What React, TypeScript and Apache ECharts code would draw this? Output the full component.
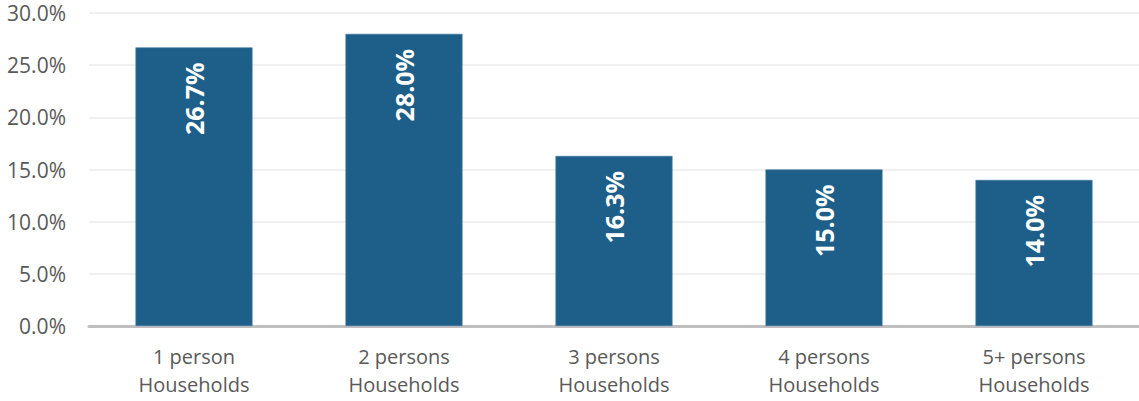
import React, { useEffect, useRef } from "react";
import * as echarts from "echarts";

const categories = [
  "1 person\nHouseholds",
  "2 persons\nHouseholds",
  "3 persons\nHouseholds",
  "4 persons\nHouseholds",
  "5+ persons\nHouseholds",
];
const shares = [26.7, 28.0, 16.3, 15.0, 14.0];
const yTicks = { min: 0, max: 30, interval: 5 };

export default function App() {
  const ref = useRef<HTMLDivElement>(null);
  useEffect(() => {
    if (!ref.current) return;
    const chart = echarts.init(ref.current, null, { renderer: "svg" });
    chart.setOption({
      animation: false,
      backgroundColor: "#ffffff",
      textStyle: { fontFamily: "Open Sans" },
      grid: { left: 89, right: 0, top: 13, bottom: 75, containLabel: false },
      xAxis: {
        type: "category",
        data: categories,
        axisTick: { show: false },
        axisLine: { show: true, lineStyle: { color: "#BFBFBF", width: 3 } },
        axisLabel: {
          color: "#595959",
          fontSize: 20,
          lineHeight: 28,
          margin: 16,
          fontFamily: "Open Sans",
        },
      },
      yAxis: {
        type: "value",
        min: yTicks.min,
        max: yTicks.max,
        interval: yTicks.interval,
        axisLine: { show: false },
        axisTick: { show: false },
        splitLine: { lineStyle: { color: "#EBEBEB", width: 1.5 } },
        axisLabel: {
          color: "#595959",
          fontSize: 21,
          margin: 23,
          fontFamily: "Open Sans",
          formatter: (v: number) => v.toFixed(1) + "%",
        },
      },
      series: [
        {
          type: "bar",
          data: shares,
          barWidth: 117,
          itemStyle: { color: "#1E5F89", borderColor: "#3E77A0", borderWidth: 0.6 },
          label: {
            show: true,
            position: "insideTop",
            rotate: 90,
            align: "right",
            verticalAlign: "middle",
            distance: 15,
            color: "#ffffff",
            fontWeight: "bold",
            fontSize: 25,
            fontFamily: "Open Sans",
            formatter: (p: any) => Number(p.value).toFixed(1) + "%",
          },
        },
      ],
    });
    return () => chart.dispose();
  }, []);
  return (
    <div
      ref={ref}
      style={{ position: "fixed", left: 0, top: 0, width: 1139, height: 401 }}
    />
  );
}
